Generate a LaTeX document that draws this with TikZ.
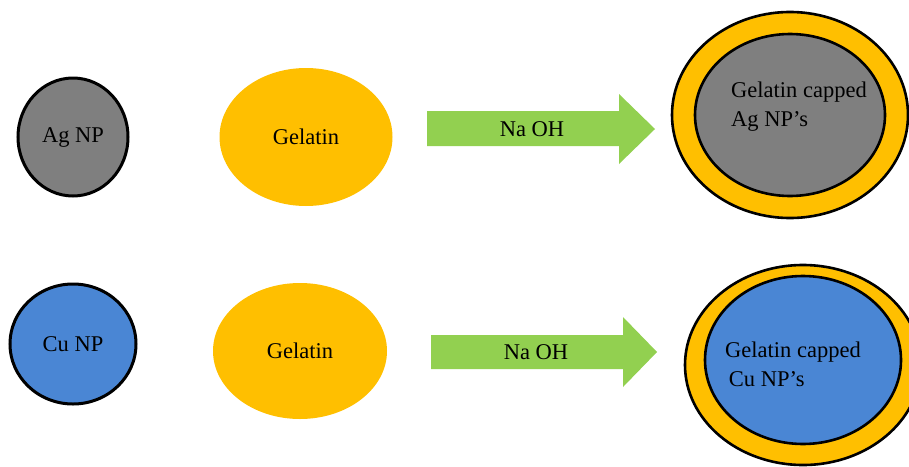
\documentclass[tikz,border=0pt]{standalone}
\usepackage{fontspec}
\setmainfont{Liberation Serif}
\usepackage{tikz}
\usetikzlibrary{shapes.geometric}
\usetikzlibrary{positioning}
\definecolor{npgray}{HTML}{7F7F7F}
\definecolor{gelgold}{HTML}{FFBF00}
\definecolor{npblue}{HTML}{4A86D4}
\definecolor{naohgreen}{HTML}{92D050}
\tikzstyle{every node}+=[inner sep=0pt]
\tikzstyle{particle} = [ellipse, draw=black, line width=3pt, font=\fontsize{22.5}{27}\selectfont]
\tikzstyle{gelatin} = [ellipse, fill=gelgold, font=\fontsize{22.5}{27}\selectfont]
\tikzstyle{shell} = [ellipse, draw=black, line width=2.6pt, fill=gelgold]
\tikzstyle{core} = [ellipse, draw=black, line width=2.6pt]
\tikzstyle{caption} = [font=\fontsize{22.5}{29}\selectfont, align=left, anchor=west]
\tikzstyle{reagent} = [fill=naohgreen]

\begin{document}
\begin{tikzpicture}[x=1pt, y=-1pt]
            \useasboundingbox (0,0) rectangle (909,466);
            % Place nodes
            \node [particle, fill=npgray, minimum width=110pt, minimum height=118pt] (ag) at (73,137) {Ag NP};
            \node [gelatin, minimum width=173pt, minimum height=138pt] (gel1) at (306,137) {Gelatin};
            \node [shell, minimum width=236pt, minimum height=206pt] (shell1) at (790,115) {};
            \node [core, fill=npgray, minimum width=190pt, minimum height=162pt] (core1) at (790,115) {};
            \node [caption] (cap1) at (731,107) {Gelatin capped\\Ag NP’s};
            \node [particle, fill=npblue, minimum width=126pt, minimum height=120pt] (cu) at (73,344) {Cu NP};
            \node [gelatin, minimum width=174pt, minimum height=136pt] (gel2) at (300,351) {Gelatin};
            \node [shell, minimum width=236pt, minimum height=200pt] (shell2) at (803,365) {};
            \node [core, fill=npblue, minimum width=196pt, minimum height=168pt] (core2) at (803,360) {};
            \node [caption] (cap2) at (725,364) {Gelatin capped\\\,Cu NP’s};
            % Draw arrows
            \path [reagent] (427,111) -- (619,111) -- (619,94) -- (655,129) -- (619,164) -- (619,146) -- (427,146) -- cycle;
            \node [font=\fontsize{22.5}{27}\selectfont] (naoh1) at (532,129) {Na OH};
            \path [reagent] (431,335) -- (623,335) -- (623,317) -- (657,352) -- (623,387) -- (623,369) -- (431,369) -- cycle;
            \node [font=\fontsize{22.5}{27}\selectfont] (naoh2) at (536,352) {Na OH};
            \end{tikzpicture}
\end{document}
